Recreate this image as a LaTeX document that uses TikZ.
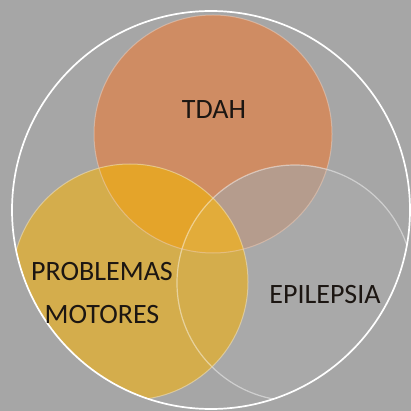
\documentclass[tikz,border=0pt]{standalone}
\usepackage{fontspec}
\setmainfont{Carlito}
\definecolor{bggray}{RGB}{166,166,166}
\definecolor{epigray}{RGB}{169,169,169}
\definecolor{tdahorange}{RGB}{207,140,99}
\definecolor{motyellow}{RGB}{212,173,76}
\definecolor{tdahmot}{RGB}{228,164,42}
\definecolor{tdahepi}{RGB}{181,156,141}
\definecolor{allthree}{RGB}{226,172,58}
\definecolor{labelink}{RGB}{28,22,18}
\newcommand{\ringpath}{(211,210) circle (199)}
\newcommand{\tdahpath}{(213,134) circle (119)}
\newcommand{\motpath}{(130,282) circle (118)}
\newcommand{\epipath}{(295,283) circle (118)}

\begin{document}
\begin{tikzpicture}[x=1pt, y=-1pt,
    venntext/.style={font=\fontsize{28}{43}\selectfont, text=labelink, align=center}]
  \useasboundingbox (0,0) rectangle (411,411);
  \fill[bggray] (0,0) rectangle (411,411);
  \begin{scope}
    \clip \ringpath;
    \fill[epigray] \epipath;
    \fill[tdahorange] \tdahpath;
    \begin{scope}
      \clip \tdahpath;
      \fill[tdahepi] \epipath;
    \end{scope}
    \fill[motyellow] \motpath;
    \begin{scope}
      \clip \tdahpath;
      \fill[tdahmot] \motpath;
      \clip \epipath;
      \fill[allthree] \motpath;
    \end{scope}
    % light rims
    \draw[white, opacity=0.45, line width=1.2pt] \epipath;
    \draw[tdahorange!40!white, opacity=0.5, line width=1pt] \tdahpath;
    \draw[motyellow!40!white, opacity=0.6, line width=1pt] \motpath;
  \end{scope}
  \draw[white, line width=1.7pt] \ringpath;
  \node[venntext] (tdah) at (214,110) {TDAH};
  \node[venntext] (motores) at (102,293) {PROBLEMAS\\MOTORES};
  \node[venntext] (epilepsia) at (325,295) {EPILEPSIA};
\end{tikzpicture}
\end{document}
